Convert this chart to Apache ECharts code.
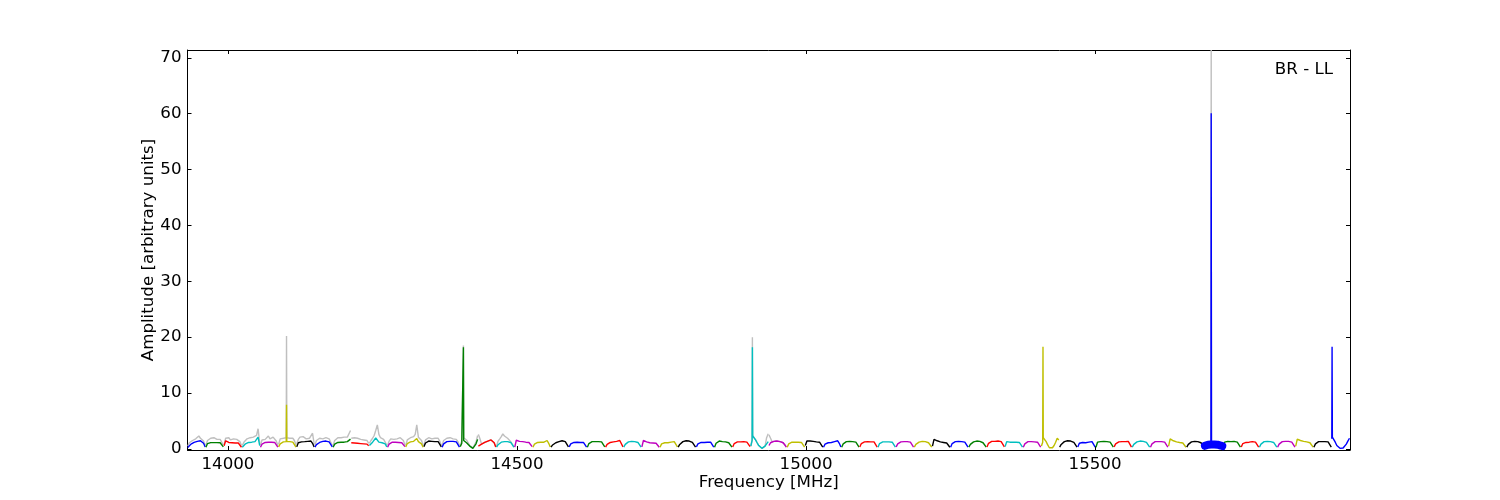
<!DOCTYPE html>
<html><head><meta charset="utf-8">
<script src="https://cdn.jsdelivr.net/npm/echarts@6/dist/echarts.min.js"></script>
<style>html,body{margin:0;padding:0;background:#fff}#c{width:1500px;height:500px}</style>
</head><body><div id="c"></div>
<script>
// ---- data ----
const windowStarts = [13930.0,13961.4,13992.8,14024.3,14055.7,14087.1,14118.5,14149.9,14181.4,14212.8,14244.2,14275.6,14307.0,14338.5,14369.9,14401.3,
  14432.7,14464.1,14495.6,14527.0,14558.4,14589.8,14621.2,14652.7,14684.1,14715.5,14746.9,14778.3,14809.8,14841.2,14872.6,14904.0,
  14935.4,14966.9,14998.3,15029.7,15061.1,15092.5,15124.0,15155.4,15186.8,15218.2,15249.6,15281.1,15312.5,15343.9,15375.3,15406.7,
  15438.2,15469.6,15501.0,15532.4,15563.8,15595.3,15626.7,15658.1,15689.5,15720.9,15752.4,15783.8,15815.2,15846.6,15878.0,15909.5];
// channel frequency offsets (MHz) inside a window
const channelOffsets = [0.5,3.2,6.0,8.7,11.4,14.2,16.9,19.6,22.4,25.1,27.8,30.6];
// windows containing a single-channel spike keep the channels right next to it
const spikeWindows = [5,15,31,47,56,63];
const spikeWindowOffsets = [
 [0.5,3.2,6.0,8.7,11.4,13.7,14.2,14.7,16.9,19.6,22.4,25.1,27.8,30.6],
 [0.5,3.2,5.5,6.0,6.5,8.7,11.4,14.2,16.9,19.6,22.4,25.1,27.8,30.6],
 [0.5,2.7,3.2,3.7,6.0,8.7,11.4,14.2,16.9,19.6,22.4,25.1,27.8,30.6],
 [0.5,2.7,3.2,3.7,6.0,8.7,11.4,14.2,16.9,19.6,22.4,25.1,27.8,30.6],
 [0.5,3.2,6.0,8.7,10.9,11.4,11.9,14.2,16.9,19.6,22.4,25.1,27.8,30.6],
 [0.0,0.5,1.0,3.2,6.0,8.7,11.4,14.2,16.9,19.6,22.4,25.1,27.8,30.6]
];

const ampA = [
 [0.25,0.6,0.85,1.0,1.15,1.25,1.35,1.42,1.45,1.4,1.0,0.35],
 [0.3,0.95,1.1,1.12,1.1,1.12,1.1,1.12,1.1,1.1,0.95,0.35],
 [0.55,1.45,1.2,1.15,1.2,1.1,1.15,1.05,1.1,1.05,0.95,0.3],
 [0.3,0.65,0.9,1.05,1.15,1.2,1.2,1.25,1.3,1.45,2.1,0.6],
 [0.3,0.85,1.1,1.15,1.2,1.2,1.15,1.2,1.15,1.15,0.9,0.3],
 [0.35,0.9,1.2,1.25,1.3,1.3,7.9,1.3,1.3,1.3,1.25,1.2,0.9,0.3],
 [0.4,1.1,1.45,1.25,1.5,1.3,1.2,1.35,1.15,1.4,1.0,0.35],
 [0.3,0.75,1.0,1.15,1.3,1.35,1.4,1.4,1.35,1.25,0.95,0.35],
 [0.3,0.85,1.1,1.15,1.2,1.2,1.25,1.2,1.25,1.3,1.45,1.75],
 [1.1,1.15,1.05,1.1,1.0,1.05,0.95,1.0,0.9,0.95,0.85,0.55],
 [0.6,0.9,1.2,1.5,1.95,1.6,1.2,1.15,1.1,1.05,0.9,0.35],
 [0.3,0.85,1.1,1.2,1.15,1.2,1.2,1.15,1.2,1.1,0.9,0.4],
 [0.35,0.95,1.2,1.25,1.3,1.35,1.5,1.85,1.3,1.2,0.9,0.3],
 [0.4,1.05,1.35,1.4,1.45,1.35,1.4,1.3,1.25,1.3,0.95,0.35],
 [0.3,0.9,1.2,1.3,1.35,1.35,1.3,1.35,1.3,1.25,0.9,0.3],
 [0.4,1.0,1.2,18.2,1.5,1.4,1.1,0.8,0.5,0.25,0.1,0.3,0.9,1.7]
];
const ampB = [
 [0.5,0.7,0.85,1.0,1.15,1.3,1.4,1.5,1.6,1.55,1.1,0.35],
 [0.3,0.75,1.05,1.2,1.25,1.3,1.3,1.3,1.25,1.15,0.85,0.3],
 [0.3,1.55,1.4,1.35,1.3,1.3,1.25,1.2,1.2,1.15,0.95,0.4],
 [0.3,0.85,1.1,1.15,1.15,1.2,1.15,1.2,1.3,1.5,1.0,0.35],
 [0.3,0.7,0.95,1.1,1.2,1.3,1.4,1.45,1.4,1.3,0.95,0.35],
 [0.35,0.9,1.1,1.15,1.15,1.2,1.15,1.15,1.2,1.15,0.9,0.3],
 [0.3,0.95,1.25,1.3,1.3,1.3,1.3,1.3,1.25,1.25,0.95,0.35],
 [0.3,0.8,1.05,1.15,1.2,1.25,1.3,1.35,1.4,1.5,1.2,0.35],
 [0.3,0.8,1.1,1.25,1.3,1.35,1.35,1.3,1.25,1.15,0.85,0.3],
 [0.35,1.5,1.35,1.25,1.15,1.1,1.1,1.05,1.05,1.0,0.8,0.3],
 [0.3,0.9,1.1,1.1,1.15,1.1,1.15,1.2,1.25,1.3,0.95,0.35],
 [0.3,0.8,1.1,1.3,1.4,1.45,1.45,1.4,1.3,1.15,0.85,0.3],
 [0.35,0.9,1.1,1.15,1.2,1.15,1.2,1.2,1.15,1.2,0.9,0.3],
 [0.3,1.0,1.35,1.4,1.35,1.3,1.25,1.25,1.2,1.1,0.85,0.3],
 [0.35,0.95,1.25,1.25,1.3,1.25,1.25,1.3,1.25,1.2,0.9,0.4],
 [0.5,1.5,18.2,2.3,2.1,1.6,1.1,0.6,0.25,0.1,0.2,0.5,0.9,1.3]
];
const ampC = [
 [0.6,1.1,1.25,1.35,1.4,1.4,1.35,1.3,1.25,1.1,0.8,0.3],
 [0.3,0.9,1.15,1.2,1.2,1.2,1.15,1.2,1.2,1.15,0.9,0.3],
 [0.6,1.4,1.25,1.4,1.3,1.35,1.3,1.25,1.3,1.2,0.85,0.3],
 [0.3,0.85,1.05,1.1,1.1,1.15,1.2,1.3,1.5,1.45,1.0,0.35],
 [0.3,0.9,1.2,1.3,1.35,1.35,1.35,1.3,1.3,1.2,0.9,0.3],
 [0.35,0.95,1.2,1.25,1.25,1.3,1.3,1.25,1.3,1.25,0.9,0.3],
 [0.3,0.95,1.2,1.25,1.25,1.25,1.25,1.25,1.2,1.2,0.9,0.3],
 [0.35,0.9,1.15,1.25,1.3,1.3,1.3,1.3,1.25,1.2,0.9,0.3],
 [0.3,0.8,1.05,1.2,1.3,1.35,1.35,1.3,1.25,1.1,0.8,0.3],
 [0.5,1.7,1.55,1.45,1.35,1.25,1.2,1.15,1.1,1.05,0.8,0.3],
 [0.3,0.95,1.2,1.3,1.2,1.35,1.25,1.3,1.4,1.2,0.9,0.3],
 [0.3,0.8,1.1,1.25,1.35,1.4,1.4,1.35,1.25,1.1,0.8,0.3],
 [0.35,1.0,1.3,1.35,1.4,1.35,1.35,1.4,1.35,1.3,0.95,0.35],
 [0.4,1.3,1.35,1.2,1.2,1.2,1.25,1.2,1.2,1.15,0.9,0.3],
 [0.3,0.9,1.2,1.3,1.3,1.3,1.3,1.25,1.25,1.2,0.9,0.3],
 [0.5,1.2,18.3,2.0,1.9,1.3,0.7,0.2,0.02,0.2,0.6,1.2,1.9,1.6]
];
const ampD = [
 [0.3,0.8,1.1,1.3,1.4,1.45,1.45,1.4,1.3,1.15,0.85,0.3],
 [0.35,1.0,1.2,1.15,1.2,1.1,1.15,1.2,1.35,1.3,0.95,0.3],
 [0.3,1.2,1.35,1.3,1.3,1.35,1.3,1.3,1.25,1.2,0.9,0.3],
 [0.35,0.9,1.15,1.25,1.2,1.3,1.25,1.3,1.25,1.35,1.0,0.3],
 [0.3,0.8,1.1,1.25,1.35,1.4,1.4,1.35,1.3,1.15,0.85,0.3],
 [0.3,0.9,1.2,1.3,1.3,1.3,1.3,1.3,1.25,1.2,0.9,0.3],
 [0.5,1.8,1.6,1.45,1.35,1.25,1.2,1.15,1.1,1.05,0.8,0.3],
 [0.3,0.8,1.1,1.25,1.35,1.35,1.35,1.3,1.25,1.1,0.8,0.3],
 [0.55,0.65,0.75,0.8,0.8,60.1,0.8,0.8,0.8,0.75,0.75,0.7,0.6,0.5],
 [0.4,1.2,1.35,1.35,1.3,1.3,1.3,1.35,1.3,1.2,0.9,0.3],
 [0.35,0.95,1.2,1.15,1.35,1.2,1.25,1.3,1.4,1.2,0.9,0.3],
 [0.3,0.85,1.15,1.3,1.35,1.35,1.35,1.3,1.25,1.15,0.85,0.3],
 [0.3,0.85,1.15,1.3,1.35,1.35,1.35,1.35,1.3,1.2,0.9,0.3],
 [0.5,1.75,1.6,1.5,1.4,1.35,1.3,1.25,1.2,1.1,0.85,0.3],
 [0.3,0.9,1.2,1.3,1.3,1.3,1.3,1.3,1.3,1.25,0.9,0.3],
 [1.8,18.3,2.1,2.0,1.2,0.6,0.25,0.1,0.05,0.15,0.4,0.85,1.4,1.9]
];

// unflagged (grey) amplitudes, only for windows where they differ from the coloured ones
const greyWindows = [0,1,2,3,4,5,6,7,8,9,10,11,12,13,14,15,16,17,31,32,56];
const greyAmp = [
 [0.5,1.1,1.4,1.5,1.7,1.8,2.0,2.3,1.9,1.8,1.4,0.6],
 [0.7,1.5,1.7,1.9,1.6,2.0,1.8,1.7,1.9,1.7,1.5,0.7],
 [0.8,1.9,1.7,2.0,1.6,1.9,1.8,1.6,1.7,1.5,1.3,0.6],
 [0.6,1.2,1.5,1.8,1.7,2.0,1.8,2.1,1.9,2.4,3.6,1.0],
 [0.7,1.6,1.9,1.7,2.0,2.3,1.8,1.9,2.1,1.8,1.4,0.6],
 [0.8,1.8,2.0,1.9,2.1,2.0,20.2,2.0,2.0,1.9,2.2,1.9,1.5,0.7],
 [0.9,1.7,2.1,1.9,2.2,2.0,1.8,2.0,1.9,2.1,2.8,0.9],
 [0.7,1.5,1.7,1.9,2.0,1.8,2.1,2.0,1.9,1.8,1.5,0.6],
 [0.6,1.5,1.8,2.0,1.7,2.0,1.9,2.1,1.9,2.1,2.4,3.3],
 [1.9,1.8,2.0,1.7,1.9,1.8,1.7,1.9,1.6,1.7,1.5,1.0],
 [1.0,1.5,1.9,2.4,3.3,4.3,2.6,2.0,1.8,1.7,1.4,0.7],
 [0.6,1.4,1.8,1.9,1.7,2.0,1.8,1.9,2.0,1.7,1.5,0.7],
 [0.6,1.6,1.8,2.0,1.9,2.2,2.6,4.3,2.1,1.9,1.5,0.6],
 [0.7,1.6,1.9,2.0,2.1,1.8,2.0,1.9,1.8,1.9,1.4,0.6],
 [0.6,1.5,1.8,1.9,1.8,2.0,1.9,1.8,1.9,1.7,1.3,0.6],
 [0.6,1.4,1.5,18.5,2.0,2.0,1.6,1.1,0.6,0.3,0.2,0.5,1.2,2.4],
 [2.6,1.8,0.85,1.0,1.15,1.3,1.4,1.5,1.6,1.55,1.1,0.35],
 [0.5,1.4,1.8,2.2,2.7,2.3,2.0,1.9,1.6,1.3,0.85,0.3],
 [0.5,1.6,20.0,2.4,2.1,1.6,1.1,0.6,0.25,0.1,0.2,0.5,2.0,2.7],
 [2.5,1.9,1.25,1.35,1.4,1.4,1.35,1.3,1.25,1.1,0.8,0.3],
 [0.55,0.65,0.75,0.8,0.8,71.4,0.8,0.8,0.8,0.75,0.75,0.7,0.6,0.5]
];
const flaggedBlobWindow = 56;

const xTicks = [14000,14500,15000,15500];
const yTicks = [0,10,20,30,40,50,60,70];
const xRange = [13930, 15941];
const yRange = [-0.2, 71.4];

// ---- styles ----
const colourCycle = ['#0000ff','#008000','#ff0000','#00bfbf','#bf00bf','#bfbf00','#000000'];
const FONT = 'DejaVu Sans';
const FS = 16.67;

const amp = [...ampA, ...ampB, ...ampC, ...ampD];
function offsetsFor(w){ const s = spikeWindows.indexOf(w); return s >= 0 ? spikeWindowOffsets[s] : channelOffsets; }
function pts(w, vals){ const offs = offsetsFor(w); return vals.map((v,k)=>[windowStarts[w]+offs[k], v]); }

const series = [];
greyWindows.forEach((w,i)=>{
  series.push({type:'line', data:pts(w, greyAmp[i]), showSymbol:false, symbol:'none',
    lineStyle:{color:'#bfbfbf', width:1.4}, z:1, silent:true});
});
amp.forEach((vals,w)=>{
  series.push({type:'line', data:pts(w, vals), showSymbol:false, symbol:'none',
    lineStyle:{color:colourCycle[w%7], width:1.4}, z:2, silent:true});
});
// thick rendering of the heavily flagged window
series.push({type:'line', data:pts(flaggedBlobWindow, amp[flaggedBlobWindow]).filter(p=>p[1]<5),
  showSymbol:false, symbol:'none', lineStyle:{color:colourCycle[flaggedBlobWindow%7], width:8, cap:'round', join:'round'}, z:3, silent:true});

const axisLine = {show:true, onZero:false, lineStyle:{color:'#000', width:1}};
const lbl = {color:'#000', fontFamily:FONT, fontSize:FS};
const plain = v => String(v);

const option = {
  animation:false,
  backgroundColor:'#fff',
  grid:{left:187.5, right:150, top:50, bottom:50, containLabel:false, outerBoundsMode:'none'},
  xAxis:[
    {type:'value', position:'bottom', min:xRange[0], max:xRange[1], axisLine,
     axisTick:{show:true, inside:true, length:4, customValues:xTicks, lineStyle:{color:'#000'}},
     axisLabel:Object.assign({customValues:xTicks, margin:6, formatter:plain}, lbl),
     splitLine:{show:false},
     name:'Frequency [MHz]', nameLocation:'middle', nameGap:24, nameMoveOverlap:false, nameTextStyle:lbl},
    {type:'value', position:'top', min:xRange[0], max:xRange[1], axisLine,
     axisTick:{show:true, inside:true, length:4, customValues:xTicks, lineStyle:{color:'#000'}},
     axisLabel:{show:false}, splitLine:{show:false}}
  ],
  yAxis:[
    {type:'value', position:'left', min:yRange[0], max:yRange[1], axisLine,
     axisTick:{show:true, inside:true, length:4, customValues:yTicks, lineStyle:{color:'#000'}},
     axisLabel:Object.assign({customValues:yTicks, margin:6, formatter:plain}, lbl),
     splitLine:{show:false},
     name:'Amplitude [arbitrary units]', nameLocation:'middle', nameGap:30, nameRotate:90, nameMoveOverlap:false, nameTextStyle:lbl},
    {type:'value', position:'right', min:yRange[0], max:yRange[1], axisLine,
     axisTick:{show:true, inside:true, length:4, customValues:yTicks, lineStyle:{color:'#000'}},
     axisLabel:{show:false}, splitLine:{show:false}}
  ],
  graphic:[{type:'text', x:1333, y:70, z:10,
    style:{text:'BR - LL', align:'right', verticalAlign:'middle', fill:'#000', fontFamily:FONT, fontSize:FS}}],
  series
};
const chart = echarts.init(document.getElementById('c'), null, {renderer:'canvas'});
chart.setOption(option);
</script></body></html>
